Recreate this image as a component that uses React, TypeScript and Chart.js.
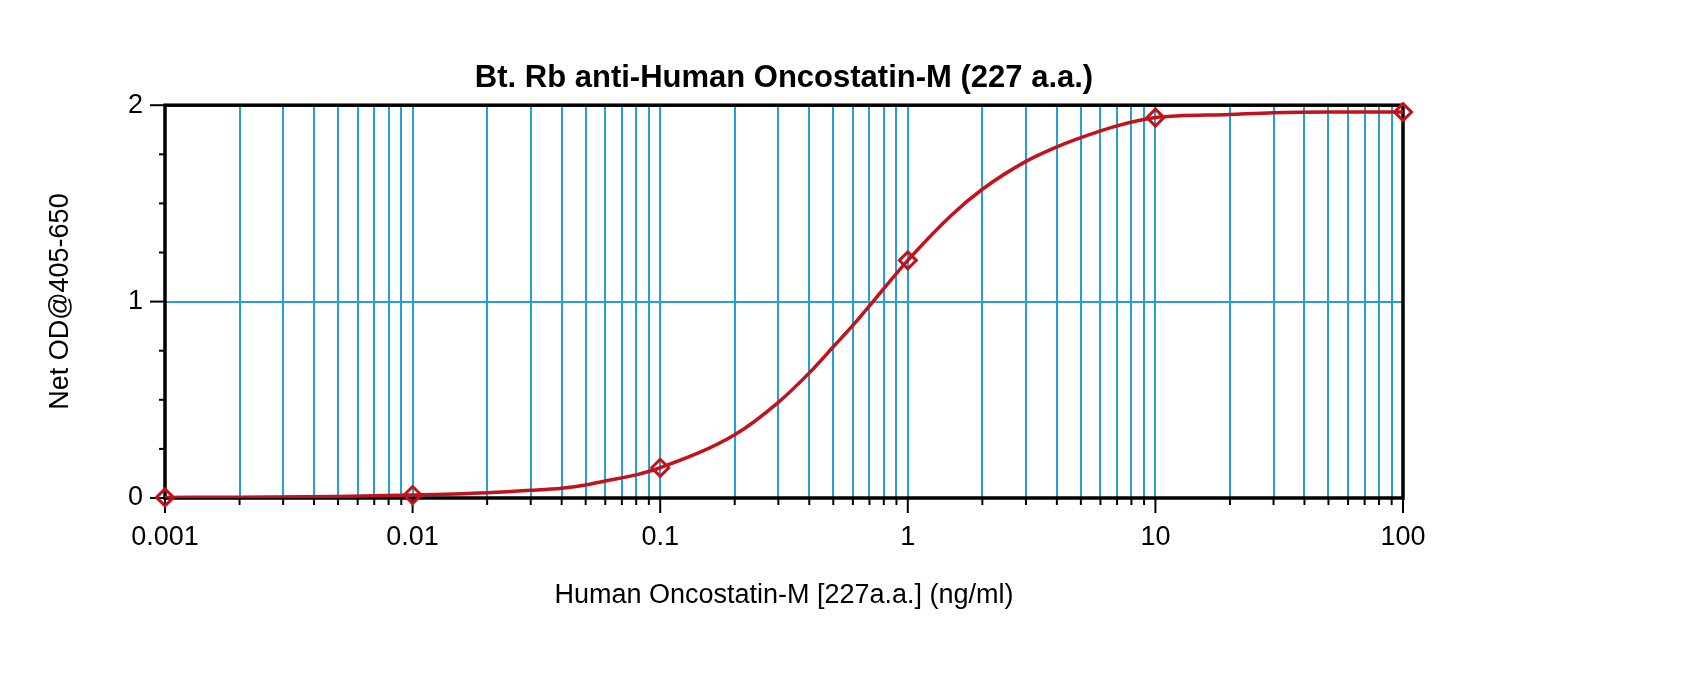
import React, { useEffect, useRef } from 'react';
import { Chart, registerables } from 'chart.js';

Chart.register(...registerables);

// standards (diamonds)
const standardConc = [0.001, 0.01, 0.1, 1, 10, 100];
const standardOD = [0.003, 0.015, 0.154, 1.21, 1.937, 1.965];

// fitted curve
const curveConc = [
  0.001, 0.002, 0.005, 0.01, 0.02, 0.03, 0.04, 0.05, 0.06, 0.08, 0.1, 0.2, 0.3, 0.4,
  0.5, 0.63, 1, 1.5, 2, 3, 4, 5, 7, 10, 20, 30, 50, 100,
];
const curveOD = [
  0.003, 0.004, 0.008, 0.015, 0.027, 0.039, 0.05, 0.066, 0.087, 0.118, 0.154, 0.322, 0.487, 0.637,
  0.77, 0.91, 1.21, 1.44, 1.572, 1.714, 1.788, 1.835, 1.895, 1.937, 1.953, 1.962, 1.965, 1.965,
];

const decades = [0.001, 0.01, 0.1, 1, 10, 100];
const multipliers = [1, 2, 3, 4, 5, 6, 7, 8, 9];
const yTicks = [0, 0.25, 0.5, 0.75, 1, 1.25, 1.5, 1.75, 2];
const yLabels = [0, 1, 2];

const titleText = 'Bt. Rb anti-Human Oncostatin-M (227 a.a.)';
const xTitle = 'Human Oncostatin-M [227a.a.] (ng/ml)';
const yTitle = 'Net OD@405-650';

const RED = '#c3121c';
const BLUE = '#23a0d4';
const FONT = "'Liberation Sans', Arial, sans-serif";

const xTickValues: number[] = [];
decades.forEach((d, i) => {
  if (i === decades.length - 1) xTickValues.push(d);
  else multipliers.forEach(m => xTickValues.push(+(d * m).toPrecision(3)));
});

const isDecade = (v: number) => decades.some(d => Math.abs(d - v) / d < 1e-6);

// frame + outside tick marks
const framePlugin = {
  id: 'frame',
  beforeDatasetsDraw(chart: any) {
    const { ctx, chartArea } = chart;
    const xs = chart.scales.x;
    const ys = chart.scales.y;
    ctx.save();
    ctx.strokeStyle = '#000';
    ctx.lineWidth = 2;
    xTickValues.forEach(v => {
      const px = xs.getPixelForValue(v);
      const len = isDecade(v) ? 15 : 7;
      ctx.beginPath();
      ctx.moveTo(px, chartArea.bottom);
      ctx.lineTo(px, chartArea.bottom + len);
      ctx.stroke();
    });
    yTicks.forEach(v => {
      const py = ys.getPixelForValue(v);
      const len = yLabels.includes(v) ? 15 : 6;
      ctx.beginPath();
      ctx.moveTo(chartArea.left, py);
      ctx.lineTo(chartArea.left - len, py);
      ctx.stroke();
    });
    ctx.lineWidth = 3.5;
    ctx.strokeRect(chartArea.left, chartArea.top, chartArea.right - chartArea.left, chartArea.bottom - chartArea.top);
    ctx.restore();
  },
};

export default function App() {
  const canvasRef = useRef<HTMLCanvasElement>(null);
  const chartRef = useRef<Chart | null>(null);

  useEffect(() => {
    document.body.style.margin = '0';
    if (!canvasRef.current) return;
    if (chartRef.current) chartRef.current.destroy();

    chartRef.current = new Chart(canvasRef.current, {
      type: 'scatter',
      data: {
        datasets: [
          {
            data: curveConc.map((x, i) => ({ x, y: curveOD[i] })),
            showLine: true,
            borderColor: RED,
            borderWidth: 3.5,
            pointRadius: 0,
            cubicInterpolationMode: 'monotone',
          },
          {
            data: standardConc.map((x, i) => ({ x, y: standardOD[i] })),
            showLine: false,
            pointStyle: 'rectRot',
            pointRadius: 8.5,
            pointBorderWidth: 3,
            pointBorderColor: RED,
            pointBackgroundColor: 'rgba(0,0,0,0)',
            clip: false,
          },
        ],
      },
      plugins: [framePlugin],
      options: {
        animation: false,
        responsive: true,
        maintainAspectRatio: false,
        layout: { padding: { left: 0, right: 297, top: 0, bottom: 0 } },
        plugins: {
          legend: { display: false },
          tooltip: { enabled: false },
          title: {
            display: true,
            text: titleText,
            fullSize: false,
            color: '#000',
            font: { family: FONT, size: 31, weight: 'bold' },
            padding: { top: 60, bottom: 8 },
          },
        },
        scales: {
          x: {
            type: 'logarithmic',
            min: 0.001,
            max: 100,
            afterBuildTicks: (scale: any) => {
              scale.ticks = xTickValues.map(v => ({ value: v, major: isDecade(v) }));
            },
            afterFit: (scale: any) => {
              scale.height = 186;
            },
            border: { display: false },
            grid: {
              drawTicks: false,
              lineWidth: 2,
              color: (c: any) =>
                c.tick && (c.tick.value <= 0.001 || c.tick.value >= 100) ? 'rgba(0,0,0,0)' : BLUE,
            },
            ticks: {
              autoSkip: false,
              maxRotation: 0,
              padding: 23,
              color: '#000',
              font: { family: FONT, size: 27 },
              callback: (v: any) => (isDecade(Number(v)) ? String(Number(v)) : ''),
            },
            title: {
              display: true,
              text: xTitle,
              color: '#000',
              font: { family: FONT, size: 27 },
              padding: { top: 0, bottom: 72 },
            },
          },
          y: {
            min: 0,
            max: 2,
            afterBuildTicks: (scale: any) => {
              scale.ticks = yTicks.map(v => ({ value: v }));
            },
            afterFit: (scale: any) => {
              scale.width = 165;
            },
            border: { display: false },
            grid: {
              drawTicks: false,
              lineWidth: 2,
              color: (c: any) => (c.tick && c.tick.value === 1 ? BLUE : 'rgba(0,0,0,0)'),
            },
            ticks: {
              autoSkip: false,
              padding: 22,
              color: '#000',
              font: { family: FONT, size: 27 },
              callback: (v: any) => (yLabels.includes(Number(v)) ? String(v) : ''),
            },
            title: {
              display: true,
              text: yTitle,
              color: '#000',
              font: { family: FONT, size: 27 },
              padding: { top: 44, bottom: 0 },
            },
          },
        },
      },
    } as any);

    return () => {
      if (chartRef.current) {
        chartRef.current.destroy();
        chartRef.current = null;
      }
    };
  }, []);

  return (
    <div style={{ width: 1700, height: 684, position: 'relative', background: '#fff' }}>
      <canvas ref={canvasRef}></canvas>
    </div>
  );
}
